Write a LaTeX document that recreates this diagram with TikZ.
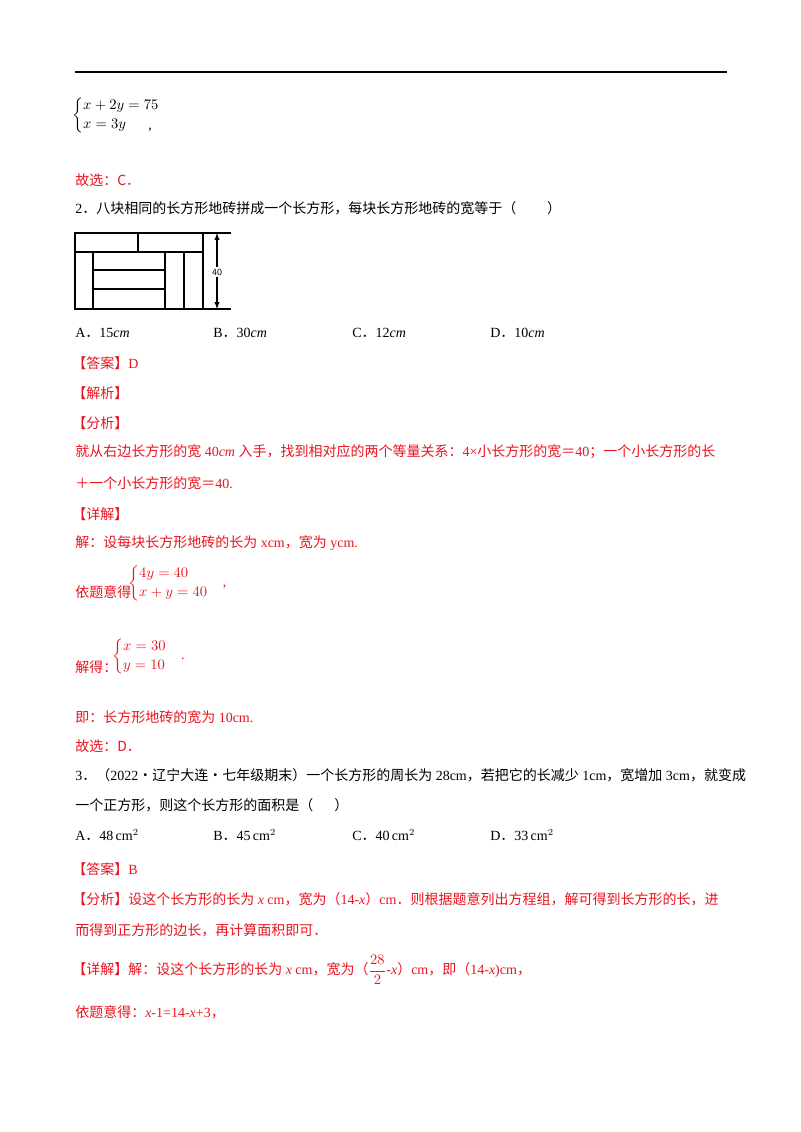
\documentclass[tikz,border=0pt]{standalone}
\usepackage{fontspec}
\usepackage{amsmath}
\setmainfont{Liberation Serif}
\newfontfamily\cjk{Noto Sans CJK SC}
\newcommand\fdot{{\cjk ．}}
\definecolor{ans}{RGB}{235,20,30}
\begin{document}
\begin{tikzpicture}[x=0.75pt,y=-0.75pt,
  txt/.style={anchor=west,inner sep=0pt,font=\fontsize{10.5}{12}\selectfont},
  red/.style={txt,text=ans},
  fig/.style={line width=0.8pt}]
\useasboundingbox[fill=white] (0,0) rectangle (800,1132);
\draw[line width=1.2pt] (75,72) -- (727,72);
% first system
\node[txt] (e1) at (72,115) {$\begin{cases} x+2y=75\\ x=3y\end{cases}$};
\node[txt] (c1) at (148,130) {,};
\node[red] (g1) at (75,180) {\cjk 故选：C．};
\node[txt] (q2) at (75,208) {2\fdot\cjk 八块相同的长方形地砖拼成一个长方形，每块长方形地砖的宽等于（\hspace{2.2em}）};
% figure
\draw[fig] (75,233) rectangle (203,309);
\draw[fig] (75,252) -- (203,252);
\draw[fig] (138,233) -- (138,252);
\draw[fig] (93,252) -- (93,309);
\draw[fig] (93,270) -- (165,270);
\draw[fig] (93,289) -- (165,289);
\draw[fig] (165,252) -- (165,309);
\draw[fig] (184,252) -- (184,309);
\draw[fig] (203,233) -- (231,233);
\draw[fig] (203,309) -- (231,309);
\node[inner sep=1pt,font=\sffamily\fontsize{7}{8}\selectfont] (l40) at (217,272) {40};
\coordinate (atop) at (217,233);
\coordinate (abot) at (217,309);
\draw[fig,-latex] (l40.north) -- (atop);
\draw[fig,-latex] (l40.south) -- (abot);
% options
\node[txt] (oa) at (75,333) {A\fdot 15\textit{cm}};
\node[txt] (ob) at (213,333) {B\fdot 30\textit{cm}};
\node[txt] (oc) at (352,333) {C\fdot 12\textit{cm}};
\node[txt] (od) at (490,333) {D\fdot 10\textit{cm}};
\node[red] (a2) at (72,363) {\cjk 【答案】\rm D};
\node[red] (j2) at (72,393) {\cjk 【解析】};
\node[red] (f2) at (72,423) {\cjk 【分析】};
\node[red] (f2a) at (75,452) {\cjk 就从右边长方形的宽\rm\ 40\textit{cm}\ \cjk 入手，找到相对应的两个等量关系：\rm 4×\cjk 小长方形的宽＝\rm 40\cjk ；一个小长方形的长};
\node[red] (f2b) at (75,483) {\cjk ＋一个小长方形的宽＝\rm 40.};
\node[red] (x2) at (72,514) {\cjk 【详解】};
\node[red] (s1) at (75,543) {\cjk 解：设每块长方形地砖的长为\rm\ xcm\cjk ，宽为\rm\ ycm.};
\node[red] (s2) at (75,592) {\cjk 依题意得};
\node[red] (s2e) at (128,583) {$\begin{cases} 4y=40\\ x+y=40\end{cases}$,};
\node[red] (s3) at (75,667) {\cjk 解得：};
\node[red] (s3e) at (112,656) {$\begin{cases} x=30\\ y=10\end{cases}$.};
\node[red] (s4) at (75,717) {\cjk 即：长方形地砖的宽为\rm\ 10cm.};
\node[red] (s5) at (75,746) {\cjk 故选：D．};
\node[txt] (q3) at (75,775) {3\fdot\cjk （\rm 2022\cjk ·辽宁大连·七年级期末）一个长方形的周长为\rm\ 28cm\cjk ，若把它的长减少\rm\ 1cm\cjk ，宽增加\rm\ 3cm\cjk ，就变成};
\node[txt] (q3b) at (75,805) {\cjk 一个正方形，则这个长方形的面积是（\hspace{1.5em}）};
\node[txt] (pa) at (75,835) {A\fdot 48\,cm$^2$};
\node[txt] (pb) at (213,835) {B\fdot 45\,cm$^2$};
\node[txt] (pc) at (352,835) {C\fdot 40\,cm$^2$};
\node[txt] (pd) at (490,835) {D\fdot 33\,cm$^2$};
\node[red] (a3) at (72,869) {\cjk 【答案】\rm B};
\node[red] (f3) at (72,899) {\cjk 【分析】设这个长方形的长为\rm\ \textit{x} cm\cjk ，宽为（\rm 14-\textit{x}\cjk ）\rm cm\fdot\cjk 则根据题意列出方程组，解可得到长方形的长，进};
\node[red] (f3b) at (75,930) {\cjk 而得到正方形的边长，再计算面积即可．};
\node[red] (x3) at (72,970) {\cjk 【详解】解：设这个长方形的长为\rm\ \textit{x} cm\cjk ，宽为（$\dfrac{28}{2}$\rm -\textit{x}\cjk ）\rm cm\cjk ，即（\rm 14-\textit{x})cm\cjk ，};
\node[red] (x3b) at (75,1012) {\cjk 依题意得：\rm\textit{x}-1=14-\textit{x}+3\cjk ，};
\end{tikzpicture}
\end{document}
